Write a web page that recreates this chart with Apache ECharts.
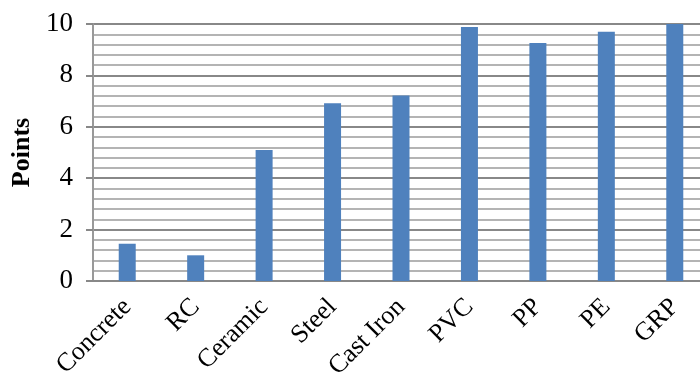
<!DOCTYPE html>
<html><head><meta charset="utf-8">
<script src="https://cdn.jsdelivr.net/npm/echarts@6/dist/echarts.min.js"></script>
<style>html,body{margin:0;padding:0;background:#fff}#c{width:700px;height:376px}</style>
</head><body><div id="c"></div>
<script>
const categories = ['Concrete','RC','Ceramic','Steel','Cast Iron','PVC','PP','PE','GRP'];
const points = [1.45, 1.0, 5.1, 6.92, 7.22, 9.88, 9.26, 9.7, 10];
const yTicks = {min:0, max:10, interval:2};
const chart = echarts.init(document.getElementById('c'), null, {renderer:'canvas'});
chart.setOption({
  animation:false,
  grid:{left:93, right:-9, top:24, bottom:95, containLabel:false, outerBoundsMode:'none'},
  xAxis:{type:'category', data:categories,
    axisLine:{lineStyle:{color:'#888', width:2}},
    axisTick:{show:false},
    axisLabel:{rotate:45, fontFamily:'Liberation Serif', fontSize:26, color:'#000', margin:22, interval:0}},
  yAxis:{type:'value', min:yTicks.min, max:yTicks.max, interval:yTicks.interval,
    name:'Points', nameLocation:'middle', nameGap:58, nameRotate:90,
    nameTextStyle:{fontFamily:'Liberation Serif', fontSize:26, fontWeight:'bold', color:'#000'},
    axisLine:{show:true, lineStyle:{color:'#999', width:2}},
    axisTick:{show:true, length:7, lineStyle:{color:'#888', width:2}},
    minorTick:{show:false, splitNumber:5},
    axisLabel:{fontFamily:'Liberation Serif', fontSize:27, color:'#000', margin:20},
    splitLine:{lineStyle:{color:'#888', width:2}},
    minorSplitLine:{show:true, lineStyle:{color:'#b4b4b4', width:2}}},
  series:[{type:'bar', data:points, barWidth:17, itemStyle:{color:'#4f81bd'}}]
});
</script></body></html>
